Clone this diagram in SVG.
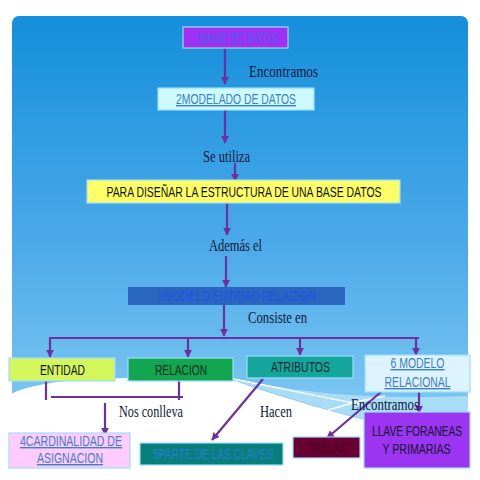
<svg xmlns="http://www.w3.org/2000/svg" width="480" height="480" viewBox="0 0 480 480">
<defs>
<linearGradient id="bg" x1="0" y1="0" x2="0" y2="1">
<stop offset="0" stop-color="#148fdc"/>
<stop offset="0.5" stop-color="#4ba9e8"/>
<stop offset="1" stop-color="#8fd2f6"/>
</linearGradient>
<marker id="ah" viewBox="0 0 10 10" refX="9" refY="5" markerWidth="3.6" markerHeight="3.6" orient="auto" markerUnits="strokeWidth">
<path d="M0,0 L10,5 L0,10 Z" fill="#6f2fa0"/>
</marker>
<style>
.bx{stroke:#9fdcff;stroke-width:1.2}
.t{font-family:"Liberation Sans","DejaVu Sans",sans-serif;font-size:14px;text-anchor:middle}
.lb{font-family:"Liberation Serif","DejaVu Serif",serif;font-size:16.5px;fill:#101838}
.ln{stroke:#6f2fa0;stroke-width:2.2;fill:none}
.ar{marker-end:url(#ah)}
</style>
</defs>
<rect width="480" height="480" fill="#ffffff"/>
<rect x="12" y="16" width="456" height="454" rx="7" fill="url(#bg)"/>
<path d="M235,379 C300,392 360,400 468,396 L468,442 C370,425 290,398 235,381 Z" fill="#a9ddf7"/>
<path d="M11,394 C35,382 80,378 140,378 L235,381 C290,400 340,414 365,420 C400,430 440,436 469,442 V472 H11 Z" fill="#ffffff"/>
<path d="M233,379 C280,388 320,397 360,404" stroke="#ffffff" stroke-width="1.3" fill="none"/>
<path d="M290,424 C320,412 350,402 385,396" stroke="#ffffff" stroke-width="1.3" fill="none"/>

<g id="connectors">
<line class="ln ar" x1="225" y1="48" x2="225" y2="84"/>
<line class="ln ar" x1="225" y1="110" x2="225" y2="143"/>
<line class="ln ar" x1="235" y1="163" x2="235" y2="181"/>
<line class="ln ar" x1="227" y1="203" x2="227" y2="235"/>
<line class="ln ar" x1="226" y1="256" x2="226" y2="287"/>
<line class="ln ar" x1="224" y1="305" x2="224" y2="336"/>
<line class="ln" x1="49" y1="338" x2="419" y2="338"/>
<line class="ln ar" x1="50" y1="338" x2="50" y2="357"/>
<line class="ln ar" x1="188" y1="338" x2="188" y2="357"/>
<line class="ln ar" x1="300" y1="338" x2="300" y2="355"/>
<line class="ln ar" x1="416" y1="338" x2="416" y2="355"/>
<line class="ln" x1="46" y1="381" x2="46" y2="400"/>
<line class="ln" x1="179" y1="381" x2="179" y2="400"/>
<line class="ln" x1="51" y1="397" x2="183" y2="397"/>
<line class="ln ar" x1="105" y1="403" x2="105" y2="435"/>
<line class="ln ar" x1="263" y1="379" x2="212" y2="440"/>
<line class="ln ar" x1="381" y1="392" x2="327" y2="438"/>
<line class="ln ar" x1="419" y1="392" x2="419" y2="413"/>
</g>

<g id="labels">
<text class="lb" x="249" y="77" textLength="69" lengthAdjust="spacingAndGlyphs">Encontramos</text>
<text class="lb" x="203" y="162" textLength="47" lengthAdjust="spacingAndGlyphs">Se utiliza</text>
<text class="lb" x="209" y="251" textLength="53" lengthAdjust="spacingAndGlyphs">Además el</text>
<text class="lb" x="248" y="323" textLength="59" lengthAdjust="spacingAndGlyphs">Consiste en</text>
<text class="lb" x="119" y="417" textLength="64" lengthAdjust="spacingAndGlyphs">Nos conlleva</text>
<text class="lb" x="260" y="417" textLength="32" lengthAdjust="spacingAndGlyphs">Hacen</text>
<text class="lb" x="351" y="410" textLength="68" lengthAdjust="spacingAndGlyphs">Encontramos</text>
</g>

<g id="n1">
<rect class="bx" x="183" y="27" width="105" height="21" fill="#a22ff6" stroke="#4f6cff"/>
<text class="t" x="236.5" y="43" fill="#4262e6" textLength="83" lengthAdjust="spacingAndGlyphs">1BASE DE DATOS</text>
</g>
<g id="n2">
<rect class="bx" x="158" y="88" width="156" height="22" fill="#ccfaff"/>
<text class="t" x="236" y="104" fill="#3f7ec4" text-decoration="underline" textLength="120" lengthAdjust="spacingAndGlyphs">2MODELADO DE DATOS</text>
</g>
<g id="n3">
<rect class="bx" x="87" y="180" width="313" height="23" fill="#ffff66" stroke="#cfeaff"/>
<text class="t" x="244" y="197" fill="#111111" textLength="275" lengthAdjust="spacingAndGlyphs">PARA DISEÑAR LA ESTRUCTURA DE UNA BASE DATOS</text>
</g>
<g id="n4">
<rect x="128" y="287" width="217" height="18" fill="#2a66c0"/>
<text class="t" x="237" y="301" fill="#1f55e4" textLength="157" lengthAdjust="spacingAndGlyphs">3MODELO ENTIDAD RELACION</text>
</g>
<g id="n5">
<rect class="bx" x="9" y="358" width="106" height="23" fill="#d2f65c"/>
<text class="t" x="62.5" y="375" fill="#111111" textLength="45" lengthAdjust="spacingAndGlyphs">ENTIDAD</text>
</g>
<g id="n6">
<rect class="bx" x="128" y="358" width="105" height="23" fill="#12a650"/>
<text class="t" x="181" y="375" fill="#102a20" textLength="52" lengthAdjust="spacingAndGlyphs">RELACION</text>
</g>
<g id="n7">
<rect class="bx" x="247" y="356" width="106" height="22" fill="#14a69a"/>
<text class="t" x="300.5" y="372" fill="#102a30" textLength="59" lengthAdjust="spacingAndGlyphs">ATRIBUTOS</text>
</g>
<g id="n8">
<rect class="bx" x="365" y="355" width="105" height="37" fill="#ddf4ff"/>
<text class="t" x="417.5" y="368" fill="#3f7ec4" text-decoration="underline" textLength="54" lengthAdjust="spacingAndGlyphs">6 MODELO</text>
<text class="t" x="417.5" y="387" fill="#3f7ec4" text-decoration="underline" textLength="66" lengthAdjust="spacingAndGlyphs">RELACIONAL</text>
</g>
<g id="n9">
<rect class="bx" x="9" y="433" width="121" height="35" fill="#ffccff"/>
<text class="t" x="71" y="446" fill="#3f7ec4" text-decoration="underline" textLength="102" lengthAdjust="spacingAndGlyphs">4CARDINALIDAD DE</text>
<text class="t" x="70" y="463" fill="#3f7ec4" text-decoration="underline" textLength="66" lengthAdjust="spacingAndGlyphs">ASIGNACION</text>
</g>
<g id="n10">
<rect class="bx" x="140" y="443" width="143" height="22" fill="#07807c" stroke="#d8f2ff"/>
<text class="t" x="213" y="459" fill="#2a7bd0" textLength="120" lengthAdjust="spacingAndGlyphs">5PARTE DE LAS CLAVES</text>
</g>
<g id="n11">
<rect class="bx" x="293" y="437" width="67" height="21" fill="#680032" stroke="#c8e4ff"/>
<text class="t" x="327.5" y="453" fill="#4a0022" textLength="39" lengthAdjust="spacingAndGlyphs">TABLAS</text>
</g>
<g id="n12">
<rect class="bx" x="364" y="412" width="106" height="56" fill="#9b35f2" stroke="#c8e4ff"/>
<text class="t" x="417" y="436" fill="#141430" textLength="90" lengthAdjust="spacingAndGlyphs">LLAVE FORANEAS</text>
<text class="t" x="416.5" y="454" fill="#141430" textLength="68" lengthAdjust="spacingAndGlyphs">Y PRIMARIAS</text>
</g>
</svg>
